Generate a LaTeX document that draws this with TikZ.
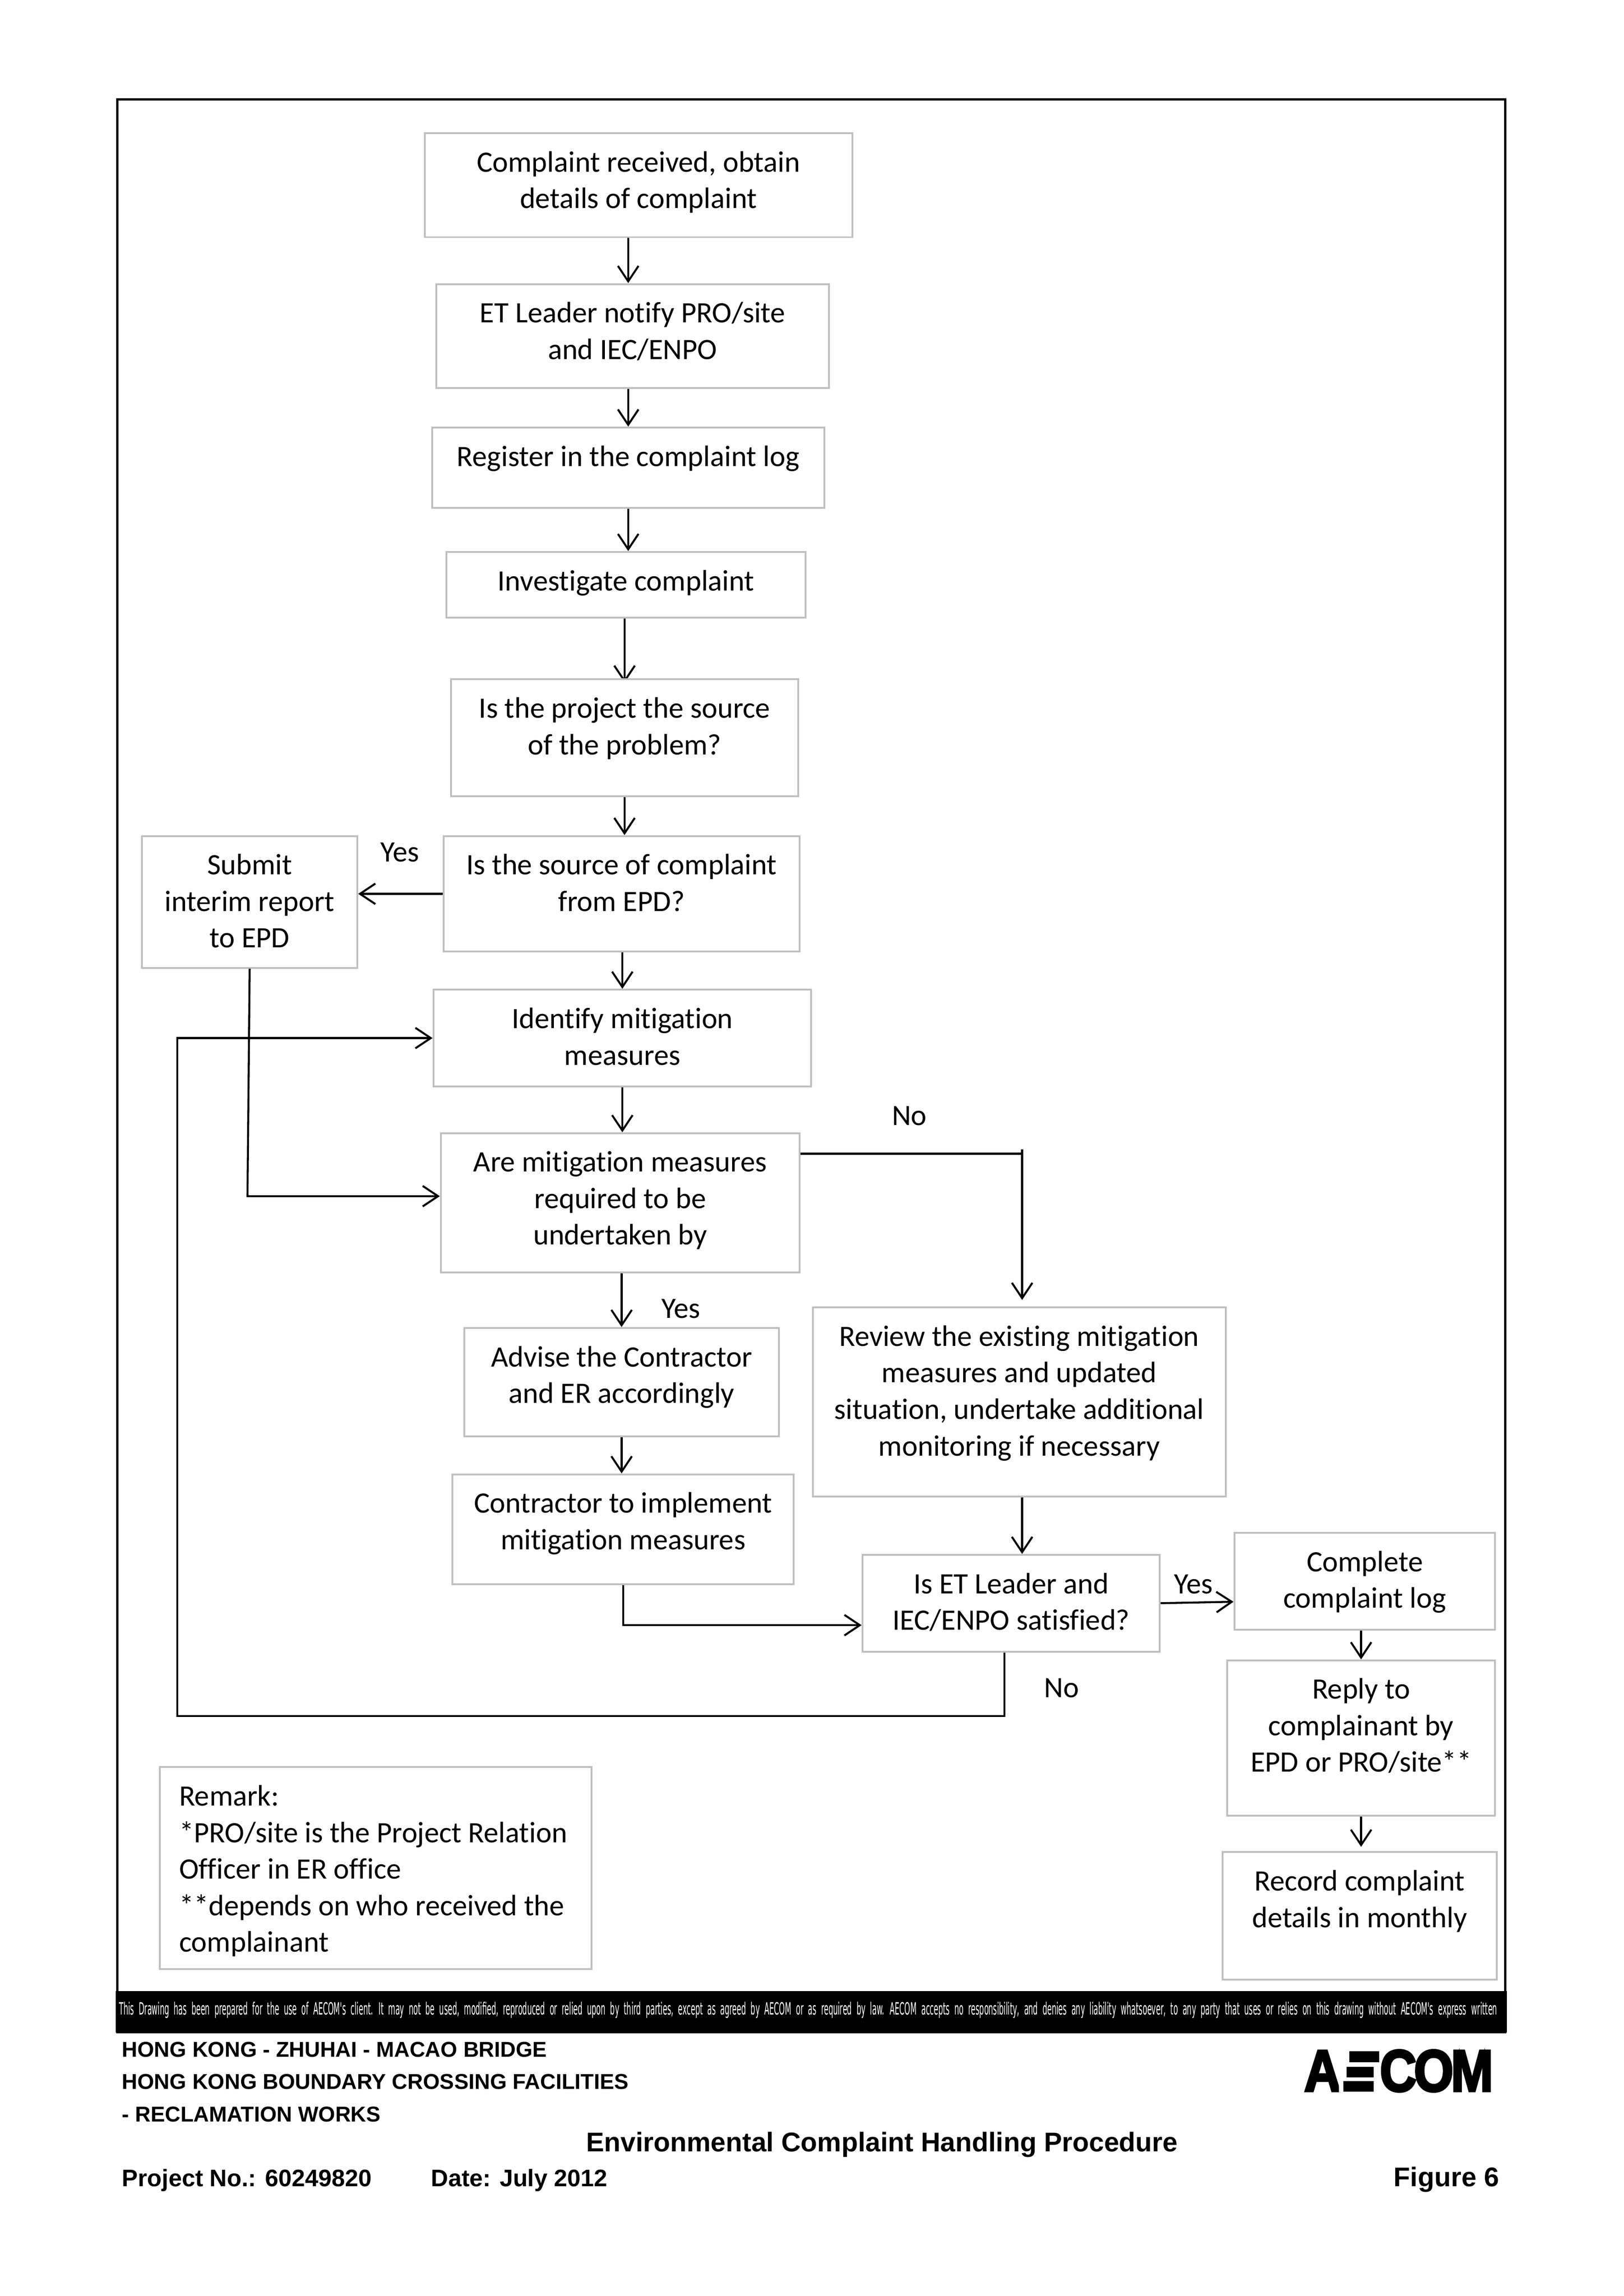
\documentclass[tikz,border=0pt]{standalone}
\usepackage{fontspec}
\usepackage{xcolor}
\setmainfont[Ligatures=NoCommon]{Carlito}
\newfontfamily\headfont{Liberation Sans}
\newfontfamily\stripfont[WordSpace=2]{DejaVu Sans}
\newfontfamily\logofont[FakeBold=4,LetterSpace=-5]{Liberation Sans}
\usetikzlibrary{positioning,calc,arrows.meta,backgrounds}
\definecolor{boxgray}{HTML}{BFBFBF}
\tikzset{
    px/.style={x=0.2mm,y=-0.2mm},
    arr/.style={line width=0.27mm,-{Straight Barb[length=2.1mm,width=2.8mm]}},
    line/.style={line width=0.27mm},
    lbl/.style={font=\fontsize{11.5}{14.2}\selectfont},
    txt/.style={lbl,align=center,anchor=north,inner sep=0pt},
    head/.style={font=\headfont\bfseries\fontsize{8.35}{10}\selectfont,anchor=base west,inner sep=0pt},
    headbig/.style={head,font=\headfont\bfseries\fontsize{10.5}{12}\selectfont},
    headmid/.style={head,font=\headfont\bfseries\fontsize{9.3}{11}\selectfont}
}
% box: name, left, top, right, bottom, text
\newcommand{\flowrect}[6]{%
    \node[draw=boxgray,fill=white,line width=0.25mm,inner sep=0pt,minimum width=#4*0.2mm-#2*0.2mm,minimum height=#5*0.2mm-#3*0.2mm] (#1) at ({(#2+#4)/2},{(#3+#5)/2}) {};
    \node[txt] (#1text) at ({(#2+#4)/2},#3+12) {#6};
}
\begin{document}
\begin{tikzpicture}[px]
    \useasboundingbox (0,0) rectangle (1109,1568.2);
    % frame and strip
    \draw[line width=0.32mm] (80,68) rectangle (1028,1388);
    \fill (79,1360) rectangle (1029,1388);
    \node[white,inner sep=0pt,anchor=west] (strip) at (81,1373) {\resizebox{188.2mm}{1.75mm}{\stripfont This Drawing has been prepared for the use of AECOM's client. It may not be used, modified, reproduced or relied upon by third parties, except as agreed by AECOM or as required by law. AECOM accepts no responsibility, and denies any liability whatsoever, to any party that uses or relies on this drawing without AECOM's express written}};

    % boxes
    \flowrect{received}{290}{91}{582}{162}{Complaint received, obtain\\details of complaint}
    \flowrect{notify}{298}{194}{566}{265}{ET Leader notify PRO/site\\and IEC/ENPO}
    \flowrect{register}{295}{292}{563}{347}{Register in the complaint log}
    \flowrect{investigate}{305}{377}{550}{422}{Investigate complaint}
    \flowrect{source}{308}{464}{545}{544}{Is the project the source\\of the problem?}
    \flowrect{epd}{303}{571}{546}{650}{Is the source of complaint\\from EPD?}
    \flowrect{submit}{97}{571}{244}{661}{Submit\\interim report\\to EPD}
    \flowrect{identify}{296}{676}{554}{742}{Identify mitigation\\measures}
    \flowrect{required}{301}{774}{546}{869}{Are mitigation measures\\required to be\\undertaken by}
    \flowrect{advise}{317}{907}{532}{981}{Advise the Contractor\\and ER accordingly}
    \flowrect{implement}{309}{1007}{542}{1082}{Contractor to implement\\mitigation measures}
    \flowrect{review}{555}{893}{837}{1022}{Review the existing mitigation\\measures and updated\\situation, undertake additional\\monitoring if necessary}
    \flowrect{satisfied}{589}{1062}{792}{1128}{Is ET Leader and\\IEC/ENPO satisfied?}
    \flowrect{complete}{843}{1047}{1021}{1113}{Complete\\complaint log}
    \flowrect{reply}{838}{1134}{1021}{1240}{Reply to\\complainant by\\EPD or PRO/site**}
    \flowrect{record}{835}{1265}{1022}{1352}{Record complaint\\details in monthly}
    \node[draw=boxgray,line width=0.25mm,inner sep=0pt,minimum width=59mm,minimum height=27.6mm] (remark) at (256.5,1276) {};
    \node[lbl,align=left,anchor=north west,inner sep=0pt] (remarktext) at (122,1219) {Remark:\\*PRO/site is the Project Relation\\Officer in ER office\\**depends on who received the\\complainant};

    % labels
    \node[lbl] (yesepd) at (273,582) {Yes};
    \node[lbl] (noreview) at (621,762) {No};
    \node[lbl] (yesadvise) at (465,894) {Yes};
    \node[lbl] (yeslog) at (815,1082) {Yes};
    \node[lbl] (noloop) at (725,1153) {No};

    % connectors
    \coordinate (submitbend) at (169,817);
    \coordinate (nobend) at (698,788);
    \coordinate (loopleft) at (121,1172);
    \draw[arr] (received.south -| register) -- (notify.north -| register);
    \draw[arr] (notify.south -| register) -- (register.north);
    \draw[arr] (register.south) -- (investigate.north -| register);
    % tip of this one runs under the box
    \begin{scope}[on background layer]
        \draw[arr,shorten >=-0.6mm] (investigate.south -| source) -- (source.north);
    \end{scope}
    \draw[arr] (source.south) -- (epd.north -| source);
    \draw[arr] (epd.west) -- (epd.west -| submit.east);
    \draw[arr] (epd.south -| identify) -- (identify.north);
    \draw[arr] (identify.south) -- (required.north -| identify);
    \draw[arr] (required.south -| advise) -- (advise.north);
    \draw[arr] (advise.south) -- (implement.north -| advise);
    \draw[arr] (submit.south) -- (submitbend) -- ([yshift=0.9mm]required.west);
    \draw[line] (required.east |- nobend) -- (nobend);
    \draw[line] (nobend) -- ++(0,-3);
    \draw[arr,shorten >=0.9mm] (nobend) -- (review.north -| nobend);
    \draw[arr] (review.south -| nobend) -- (satisfied.north -| nobend);
    \draw[arr] (implement.south) |- ([yshift=-3mm]satisfied.west);
    \draw[arr] (satisfied.east) -- ([yshift=-2.8mm]complete.west);
    \draw[arr] (complete.south -| reply) -- (reply.north);
    \draw[arr,shorten >=0.6mm] (reply.south) -- (record.north -| reply);
    \draw[arr] ([xshift=-0.9mm]satisfied.south) |- (loopleft) |- (identify.west);

    % title block
    \node[head] (proj1) at (83,1405) {HONG KONG - ZHUHAI - MACAO BRIDGE};
    \node[head] (proj2) at (83,1427) {HONG KONG BOUNDARY CROSSING FACILITIES};
    \node[head] (proj3) at (83,1449) {- RECLAMATION WORKS};
    \node[headbig] (title) at (400,1469.5) {Environmental Complaint Handling Procedure};
    \node[headmid] (projno) at (83,1493.5) {Project No.: 60249820};
    \node[headmid] (date) at (294,1493.5) {Date: July 2012};
    \node[headbig,anchor=base east] (figure) at (1024,1493.5) {Figure 6};
    \node[inner sep=0pt,anchor=south east] (logo) at (1020,1429) {\resizebox{25.8mm}{5.6mm}{\logofont\bfseries A\kern-.1em\scalebox{1.35}[1]{\textcolor{white}{E}}\kern-.03em COM}};
    % the logo's E is three bars
    \fill (921.5,1401) rectangle (941.9,1408.4);
    \fill (919.5,1411.6) rectangle (938,1418.8);
    \fill (917.5,1421.4) rectangle (938,1428.6);
\end{tikzpicture}
\end{document}
